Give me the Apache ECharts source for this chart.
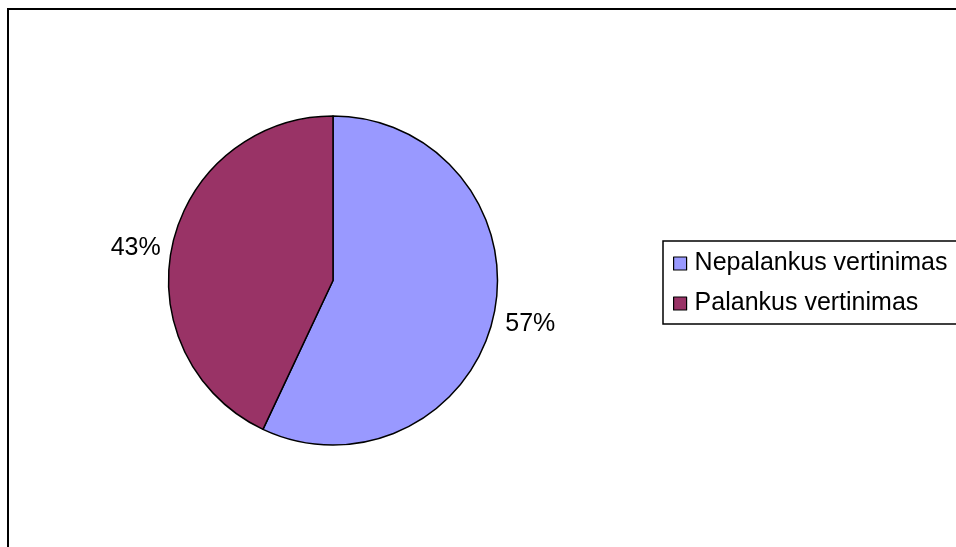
<!DOCTYPE html>
<html>
<head>
<meta charset="utf-8">
<script src="https://cdn.jsdelivr.net/npm/echarts@6/dist/echarts.min.js"></script>
<style>
html,body{margin:0;padding:0;background:#fff;}
#chart{width:956px;height:547px;}
</style>
</head>
<body>
<div id="chart"></div>
<script>
const categories = ['Nepalankus vertinimas', 'Palankus vertinimas'];
const values = [57, 43];
const colors = ['#9999FF', '#993366'];

const chart = echarts.init(document.getElementById('chart'), null, {renderer: 'canvas'});
const font = '"Liberation Sans", Arial, sans-serif';

chart.setOption({
  animation: false,
  backgroundColor: '#ffffff',
  graphic: [{
    type: 'polyline',
    shape: {points: [[8, 600], [8, 9], [1200, 9]]},
    style: {fill: 'none', stroke: '#000', lineWidth: 2},
    silent: true,
    z: -1
  }],
  legend: {
    orient: 'vertical',
    left: 663,
    top: 241,
    padding: [10, 40, 8, 10],
    itemGap: 15,
    itemWidth: 13,
    itemHeight: 13,
    icon: 'rect',
    borderColor: '#000',
    borderWidth: 1.5,
    backgroundColor: '#fff',
    textStyle: {fontFamily: font, fontSize: 25, color: '#000', lineHeight: 25, padding: [0, 0, 0, 3]},
    itemStyle: {borderColor: '#000', borderWidth: 1.2},
    data: categories
  },
  series: [{
    type: 'pie',
    center: [333, 280.5],
    radius: 164.5,
    startAngle: 90,
    clockwise: true,
    avoidLabelOverlap: false,
    itemStyle: {borderColor: '#000', borderWidth: 1.5},
    label: {
      show: true,
      position: 'outside',
      formatter: '{d}%',
      fontFamily: font,
      fontSize: 25,
      color: '#000',
      distanceToLabelLine: 2
    },
    labelLayout: {dy: 6},
    labelLine: {show: false, length: 10, length2: 0},
    emphasis: {disabled: true},
    data: categories.map((c, i) => ({name: c, value: values[i], itemStyle: {color: colors[i]}}))
  }]
});
</script>
</body>
</html>
